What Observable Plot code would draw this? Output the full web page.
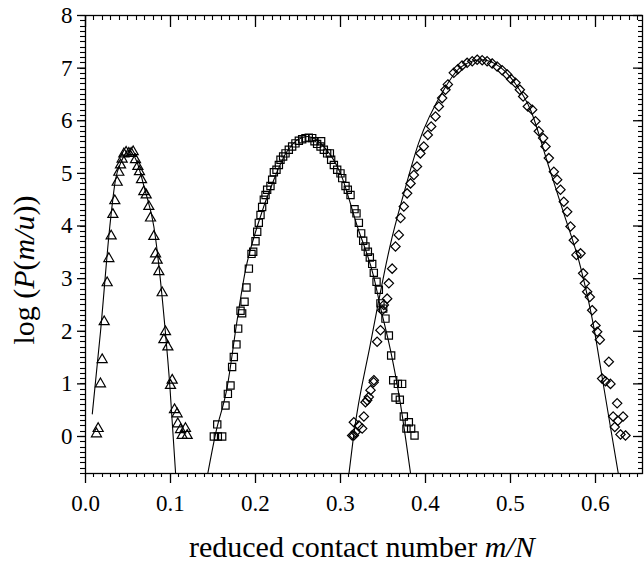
<!DOCTYPE html>
<html><head><meta charset="utf-8">
<script src="https://cdn.jsdelivr.net/npm/d3@7"></script>
<script src="https://cdn.jsdelivr.net/npm/@observablehq/plot@0.6"></script>
<style>body{margin:0;background:#fff}</style>
</head><body><div id="chart"></div>
<script>
// Triangles (first distribution)
const triX = [0.0129,0.0149,0.0176,0.0196,0.022,0.0255,0.0275,0.0302,0.0322,0.0345,0.0373,0.0392,0.0412,0.0431,0.0451,0.0478,0.051,0.0537,0.0561,0.0588,0.0616,0.0635,0.0659,0.0686,0.0714,0.0745,0.0765,0.0804,0.0824,0.0843,0.0863,0.0902,0.0941,0.0922,0.0969,0.102,0.100,0.1047,0.1078,0.1086,0.1118,0.1176,0.1137,0.1196];
const triY = [0.05,0.15,1.00,1.46,2.18,2.92,3.38,3.81,4.22,4.48,4.83,5.02,5.16,5.27,5.37,5.40,5.38,5.38,5.41,5.26,5.13,5.03,4.88,4.65,4.59,4.37,4.15,3.80,3.47,3.35,3.13,2.73,1.99,1.84,1.70,1.07,0.97,0.51,0.43,0.24,0.13,0.15,0.02,0.02];
// Squares (second distribution)
const sqX = [0.151,0.1557,0.1608,0.155,0.1647,0.1675,0.1706,0.1725,0.1745,0.1776,0.1796,0.1843,0.1824,0.1871,0.1894,0.1922,0.1953,0.1973,0.20,0.202,0.2039,0.2059,0.2078,0.2098,0.2118,0.2137,0.2176,0.2196,0.2216,0.2247,0.2275,0.2294,0.2325,0.2353,0.2392,0.2431,0.247,0.251,0.2549,0.2588,0.2627,0.2667,0.2694,0.2725,0.2772,0.2765,0.2804,0.2843,0.2875,0.289,0.2922,0.2961,0.30,0.302,0.3059,0.3086,0.3118,0.3165,0.3188,0.3216,0.3243,0.3267,0.3294,0.3322,0.3345,0.3373,0.3392,0.3424,0.3451,0.347,0.3502,0.3529,0.3569,0.3596,0.362,0.3675,0.3725,0.3647,0.3698,0.3745,0.3804,0.3776,0.3831,0.3871];
const sqY = [0,0,0,0.23,0.59,0.81,0.97,1.32,1.51,1.75,2.05,2.34,2.39,2.56,2.83,3.19,3.47,3.51,3.71,3.89,4.06,4.21,4.36,4.50,4.59,4.69,4.76,4.88,5.02,5.07,5.16,5.26,5.32,5.38,5.45,5.51,5.57,5.62,5.65,5.67,5.68,5.67,5.61,5.56,5.61,5.51,5.45,5.38,5.38,5.26,5.16,5.07,5.0,4.91,4.76,4.69,4.59,4.32,4.24,4.06,3.86,3.72,3.61,3.51,3.40,3.28,3.11,2.94,2.79,2.53,2.43,2.24,1.92,1.54,1.07,1.0,1.0,0.74,0.70,0.38,0.27,0.15,0.15,0.02];
// Diamonds (third distribution)
const diaX = [0.3137,0.3157,0.3176,0.3157,0.3216,0.3255,0.3275,0.3294,0.3314,0.3333,0.3353,0.339,0.3392,0.3431,0.347,0.349,0.351,0.3549,0.3569,0.3608,0.3647,0.3686,0.3706,0.3745,0.3784,0.3824,0.3863,0.39,0.394,0.398,0.4027,0.4067,0.4118,0.4157,0.4196,0.4235,0.4263,0.4333,0.438,0.443,0.449,0.455,0.4608,0.4667,0.4725,0.4784,0.4843,0.4902,0.496,0.5008,0.5059,0.511,0.5149,0.5204,0.5255,0.5294,0.5333,0.5384,0.5412,0.5451,0.551,0.5549,0.5588,0.5627,0.5667,0.5706,0.5745,0.5776,0.5824,0.5855,0.5875,0.5902,0.5933,0.5961,0.6,0.602,0.6051,0.6078,0.6118,0.6157,0.6176,0.6208,0.6227,0.6255,0.6263,0.6294,0.6325,0.6353];
const diaY = [0.02,0.02,0.08,0.27,0.21,0.15,0.38,0.65,0.69,0.75,0.88,1.03,1.07,1.80,2.02,2.40,2.50,2.62,2.91,3.19,3.61,3.83,4.15,4.37,4.62,4.81,4.97,5.13,5.38,5.51,5.73,5.89,6.08,6.27,6.43,6.59,6.69,6.91,6.98,7.05,7.10,7.13,7.16,7.15,7.13,7.09,7.03,6.96,6.88,6.79,6.72,6.59,6.46,6.27,6.21,5.99,5.80,5.67,5.51,5.29,5.03,4.88,4.69,4.46,4.27,3.99,3.73,3.45,3.48,3.10,2.91,2.75,2.65,2.40,2.11,1.99,1.84,1.10,1.05,1.42,1.0,0.38,0.18,0.63,0.30,0.04,0.38,0.02];
// Fitted curves
const fit1X = [0.008,0.0176,0.0286,0.0353,0.042,0.051,0.060,0.070,0.0804,0.094,0.0992,0.106];
const fit1Y = [0.43,1.98,3.99,4.88,5.22,5.42,5.24,4.68,3.99,1.98,0.97,-0.70];
const fit2X = [0.1439,0.153,0.1667,0.1784,0.1882,0.202,0.2216,0.2372,0.2608,0.282,0.30,0.3196,0.3392,0.347,0.3588,0.3686,0.3824];
const fit2Y = [-0.70,0.05,0.94,2.21,3.16,3.99,4.88,5.42,5.70,5.48,5.0,4.0,3.03,2.46,1.64,0.81,-0.70];
const fit3X = [0.31,0.3157,0.3353,0.344,0.358,0.3745,0.392,0.4216,0.44,0.465,0.488,0.505,0.5235,0.545,0.5627,0.5824,0.598,0.6078,0.6176,0.6268];
const fit3Y = [-0.70,0.05,1.77,2.5,3.6,4.62,5.58,6.59,7.0,7.16,7.02,6.72,6.21,5.13,4.24,3.22,2.08,1.13,0.18,-0.70];
// Axes
const xTicks = [0,0.1,0.2,0.3,0.4,0.5,0.6];
const yTicks = [0,1,2,3,4,5,6,7,8];
const xMinor = d3.range(0, 66).map(i => i / 100);
const yMinor = d3.range(-7, 81).map(i => i / 10);

const W = 644, H = 562, ML = 85, MR = 2, MT = 15, MB = 89;
const PW = W - ML - MR, PH = H - MT - MB;
const zip = (xs, ys) => xs.map((x, i) => ({x, y: ys[i]}));

const plot = Plot.plot({
  width: W, height: H,
  marginLeft: ML, marginRight: MR, marginTop: MT, marginBottom: MB,
  style: {fontFamily: "'Liberation Serif', 'Times New Roman', serif", fontSize: "23px", color: "black", background: "white"},
  x: {domain: [0, 0.6553]},
  y: {domain: [-0.703, 8]},
  marks: [
    Plot.line(zip(fit1X, fit1Y), {x: "x", y: "y", curve: "monotone-x", stroke: "black", strokeWidth: 1.1, clip: true}),
    Plot.line(zip(fit2X, fit2Y), {x: "x", y: "y", curve: "monotone-x", stroke: "black", strokeWidth: 1.1, clip: true}),
    Plot.line(zip(fit3X, fit3Y), {x: "x", y: "y", curve: "monotone-x", stroke: "black", strokeWidth: 1.1, clip: true}),
    Plot.dot(zip(triX, triY), {x: "x", y: "y", symbol: "triangle2", r: 4.8, stroke: "black", strokeWidth: 1.2, fill: "none"}),
    Plot.dot(zip(sqX, sqY), {x: "x", y: "y", symbol: "square2", r: 4.6, stroke: "black", strokeWidth: 1.2, fill: "none"}),
    Plot.dot(zip(diaX, diaY), {x: "x", y: "y", symbol: "diamond2", r: 4.2, stroke: "black", strokeWidth: 1.2, fill: "none"}),
    Plot.frame({stroke: "black", strokeWidth: 1.3}),
    Plot.tickX(xTicks, {x: d => d, insetBottom: PH - 12, stroke: "black", strokeWidth: 1.3}),
    Plot.tickY(yTicks, {y: d => d, insetLeft: PW - 9, stroke: "black", strokeWidth: 1.3}),
    Plot.axisX({anchor: "bottom", ticks: xTicks, tickSize: 10, tickPadding: 11, tickFormat: d3.format(".1f"), label: null, strokeWidth: 1.3}),
    Plot.axisY({anchor: "left", ticks: yTicks, tickSize: 8, tickPadding: 5, tickFormat: d3.format("d"), label: null, strokeWidth: 1.3})
  ]
});

// Minor ticks on all four sides, placed with the plot's own scales
const sx = plot.scale("x"), sy = plot.scale("y");
const svg = d3.select(plot);
const minor = svg.append("g").attr("stroke", "black").attr("stroke-width", 1.1);
const x0 = ML, x1 = W - MR, y0 = MT, y1 = H - MB;
for (const v of xMinor) {
  const px = Math.round(sx.apply(v)) + 0.5;
  minor.append("line").attr("x1", px).attr("x2", px).attr("y1", y1).attr("y2", y1 + 4);
  minor.append("line").attr("x1", px).attr("x2", px).attr("y1", y0).attr("y2", y0 + 5);
}
for (const v of yMinor) {
  const py = Math.round(sy.apply(v)) + 0.5;
  minor.append("line").attr("x1", x0 - 5).attr("x2", x0).attr("y1", py).attr("y2", py);
  minor.append("line").attr("x1", x1 - 4).attr("x2", x1).attr("y1", py).attr("y2", py);
}

const font = "'Liberation Serif', 'Times New Roman', serif";
const xt = svg.append("text")
  .attr("x", ML + PW * 0.497).attr("y", 557)
  .attr("text-anchor", "middle").attr("font-family", font).attr("font-size", 30).attr("fill", "black");
xt.append("tspan").text("reduced contact number ");
xt.append("tspan").attr("font-style", "italic").text("m/N");

const yt = svg.append("text")
  .attr("transform", "translate(34,270) rotate(-90)")
  .attr("text-anchor", "middle").attr("font-family", font).attr("font-size", 30).attr("fill", "black");
yt.append("tspan").text("log (");
yt.append("tspan").attr("font-style", "italic").text("P");
yt.append("tspan").text("(");
yt.append("tspan").attr("font-style", "italic").text("m/u");
yt.append("tspan").text("))");

document.getElementById("chart").appendChild(plot);
</script>
</body></html>
